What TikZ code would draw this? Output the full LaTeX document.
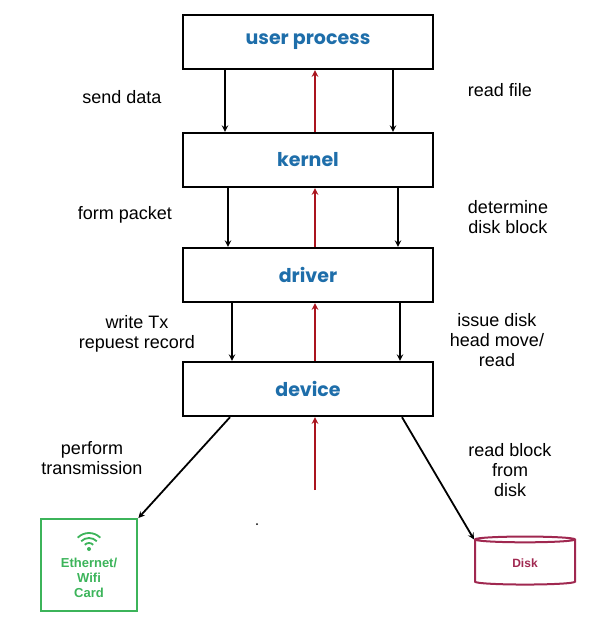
\documentclass[tikz,border=0pt]{standalone}
\usepackage{fontspec}
\setmainfont{Liberation Sans}
\newfontfamily\boxfont{Poppins}
\usetikzlibrary{arrows,positioning,shapes.geometric}
\definecolor{procblue}{RGB}{30,110,170}
\definecolor{cardgreen}{RGB}{60,180,90}
\definecolor{diskred}{RGB}{160,40,80}
\definecolor{upred}{RGB}{170,20,30}
\tikzset{
  layer/.style={draw, line width=2.4pt, minimum width=250pt, minimum height=54pt,
    font=\boxfont\bfseries\fontsize{19}{19}\selectfont, text=procblue},
  hand/.style={font=\fontsize{18}{20}\selectfont, align=center},
  down/.style={->, >=stealth, line width=1.8pt},
  up/.style={->, >=stealth, line width=1.9pt, upred}
}
\begin{document}
\begin{tikzpicture}[x=1pt,y=-1pt]
  \useasboundingbox (0,0) rectangle (602,621);

  \node[layer] (user) at (308,42) {user process};      % layers
  \node[layer] (kern) at (308,160) {kernel};
  \node[layer] (drv) at (308,275) {driver};
  \node[layer] (dev) at (308,389) {device};

  % down arrows, left and right
  \draw[down] (user.south -| 225,0) -- (kern.north -| 225,0);
  \draw[down] (user.south -| 393,0) -- (kern.north -| 393,0);
  \draw[down] (kern.south -| 228,0) -- (drv.north -| 228,0);
  \draw[down] (kern.south -| 398,0) -- (drv.north -| 398,0);
  \draw[down] (drv.south -| 232,0) -- (dev.north -| 232,0);
  \draw[down] (drv.south -| 400,0) -- (dev.north -| 400,0);

  % red return path
  \coordinate (irq) at (315,490);
  \draw[up] (irq) -- (dev.south -| irq);
  \draw[up] (dev.north -| irq) -- (drv.south -| irq);
  \draw[up] (drv.north -| irq) -- (kern.south -| irq);
  \draw[up] (kern.north -| irq) -- (user.south -| irq);

  % labels
  \node[hand] (l1) at (122,97) {send data};
  \node[hand] (r1) at (500,90) {read file};
  \node[hand] (l2) at (125,215) {form packet};
  \node[hand] (r2) at (508,217) {determine\\disk block};
  \node[hand] (l3) at (137,334) {write Tx\\repuest record};
  \node[hand] (r3) at (497,340) {issue disk\\head move/\\read};
  \node[hand] (l4) at (92,458) {perform\\transmission};
  \node[hand] (r4) at (510,470) {read block\\from\\disk};

  % network card
  \node[draw=cardgreen, line width=2.4pt, minimum width=96pt, minimum height=92pt,
    anchor=north west] (card) at (40,518) {};
  \node[text=cardgreen, font=\bfseries\fontsize{13}{15}\selectfont, align=center]
    (cardtxt) at (89,578) {Ethernet/\\Wifi\\Card};
  \fill[cardgreen] (89,549) circle (2);
  \begin{scope}[y=1pt]
    \foreach \r in {6,11,16}
      \draw[cardgreen, line width=1.8pt] (89,-549) ++(45:\r) arc[start angle=45, end angle=135, radius=\r];
  \end{scope}

  % disk
  \node[cylinder, shape border rotate=90, draw=diskred, line width=2pt,
    aspect=0.18, minimum width=100pt, minimum height=48pt, text=diskred,
    font=\bfseries\fontsize{12}{12}\selectfont] (disk) at (525,563) {\raisebox{-10pt}{Disk}};

  \draw[down] (dev.south -| 230,0) -- (card.north east);
  \draw[down] (dev.south -| 402,0) -- (disk.before top);
  \fill (257,524) circle (1);
\end{tikzpicture}
\end{document}
